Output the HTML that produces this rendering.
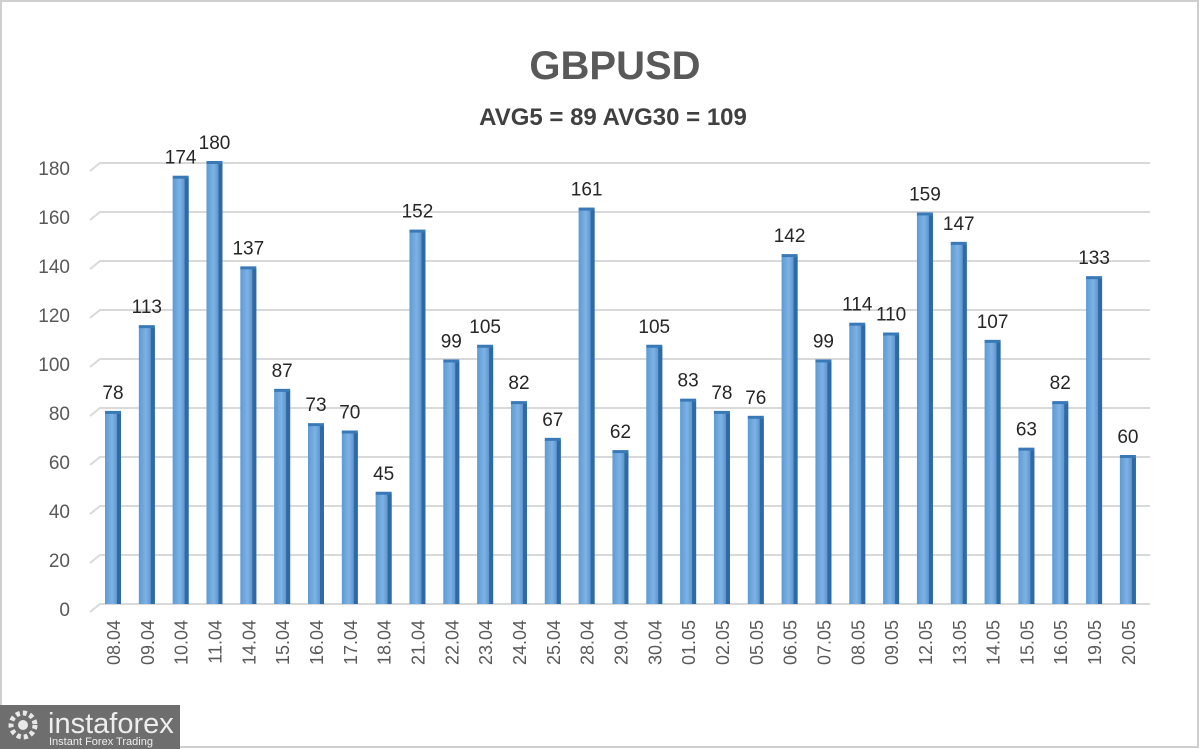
<!DOCTYPE html>
<html><head><meta charset="utf-8"><style>
html,body{margin:0;padding:0;background:#fff;}
#wrap{position:relative;width:1200px;height:749px;overflow:hidden;background:#fff;}
svg text{font-family:"Liberation Sans",sans-serif;}
</style></head><body>
<div id="wrap">
<svg id="chart" width="1200" height="749">
<defs>
<linearGradient id="bg" x1="0" x2="1" y1="0" y2="0">
<stop offset="0" stop-color="#5b9bd5"/><stop offset="0.45" stop-color="#7fb2e3"/><stop offset="1" stop-color="#3f7fc0"/>
</linearGradient>
</defs>
<rect x="1" y="1" width="1197" height="746" fill="#fff" stroke="#cfcfcf" stroke-width="2"/>
<text x="615" y="79" text-anchor="middle" font-size="40" font-weight="bold" fill="#595959">GBPUSD</text>
<text x="613" y="125" text-anchor="middle" font-size="24" font-weight="bold" fill="#404040">AVG5 = 89 AVG30 = 109</text>
<g id="grid"></g>
<g id="bars"></g>
<g id="xlabels"></g>
<g>
<rect x="0" y="705" width="180" height="44" fill="#6e6e6e"/>
<circle cx="23" cy="725" r="12" fill="none" stroke="#e8e8e8" stroke-width="5" stroke-dasharray="4 3"/>
<circle cx="23" cy="725" r="5" fill="#e8e8e8"/>
<text x="48" y="733" font-size="29" fill="#eeeeee">instaforex</text>
<text x="49" y="745" font-size="11" fill="#eeeeee">Instant Forex Trading</text>
</g>
</svg>
</div>
<script>
const categories=["08.04","09.04","10.04","11.04","14.04","15.04","16.04","17.04","18.04","21.04","22.04","23.04","24.04","25.04","28.04","29.04","30.04","01.05","02.05","05.05","06.05","07.05","08.05","09.05","12.05","13.05","14.05","15.05","16.05","19.05","20.05"];
const values=[78,113,174,180,137,87,73,70,45,152,99,105,82,67,161,62,105,83,78,76,142,99,114,110,159,147,107,63,82,133,60];
const yTicks=[0,20,40,60,80,100,120,140,160,180];
const NS="http://www.w3.org/2000/svg";
const y0=604, pxPer=2.45, x0=113, step=33.83, bw=16;
function yS(v){return y0-v*pxPer;}
function xS(i){return x0+i*step;}
function mk(tag,attrs,parent){const e=document.createElementNS(NS,tag);for(const k in attrs)e.setAttribute(k,attrs[k]);parent.appendChild(e);return e;}
const grid=document.getElementById('grid'),bars=document.getElementById('bars'),xl=document.getElementById('xlabels');
yTicks.forEach(t=>{
  const y=yS(t);
  const l=mk('polyline',{points:`90,${y+8} 100,${y} 1150,${y}`,fill:'none',stroke:'#d9d9d9','stroke-width':2},grid);
  
  
  const tx=mk('text',{x:70,y:y+12,'text-anchor':'end','font-size':19,fill:'#595959'},grid);
  tx.textContent=t;
  
  
});
values.forEach((v,i)=>{
  const cx=xS(i),top=yS(v);
  const g=mk('g',{},bars);
  
  
  mk('rect',{x:cx-bw/2,y:top,width:bw,height:y0-top,fill:'url(#bg)'},g);
  mk('rect',{x:cx+bw/2-4,y:top,width:4,height:y0-top,fill:'#2f6aa6'},g);
  mk('rect',{x:cx-bw/2,y:top-2,width:bw,height:3,fill:'#3a79b8'},g);
  const t=mk('text',{x:cx,y:top-14,'text-anchor':'middle','font-size':19,fill:'#262626'},g);
  t.textContent=v;
  
  
  const lb=mk('text',{x:0,y:0,'text-anchor':'end','font-size':18,fill:'#595959',transform:`translate(${cx+7},620) rotate(-90)`},xl);
  lb.textContent=categories[i];
  
  
});
</script>
</body></html>
